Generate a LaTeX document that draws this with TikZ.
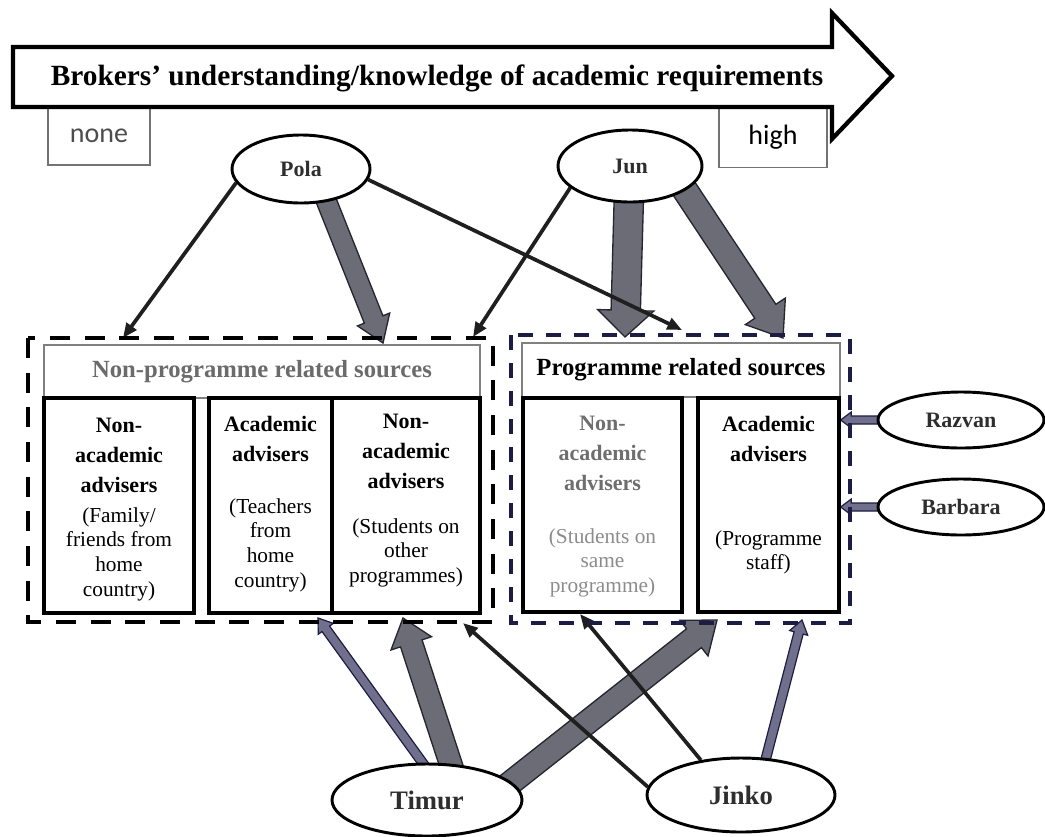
\documentclass[tikz,border=0pt]{standalone}
\usepackage{fontspec}
\setmainfont{Liberation Serif}
\newfontfamily\calibfont{Carlito}
\usetikzlibrary{shapes.geometric,arrows.meta,calc}
\pgfdeclarelayer{bg}
\pgfsetlayers{bg,main}

\definecolor{fatfill}{HTML}{6C6C76}
\definecolor{fatline}{HTML}{262630}
\definecolor{slimfill}{HTML}{70708C}
\definecolor{navy}{HTML}{1C1C44}
\definecolor{greyone}{HTML}{6B6B6B}
\definecolor{greytwo}{HTML}{6E6E6E}
\definecolor{greythree}{HTML}{8C8C8C}
\definecolor{namegrey}{HTML}{2E2E2E}

\tikzset{
  bigarrow/.style={draw, line width=3.2pt, fill=white, line join=miter},
  scalebox/.style={draw=black!55, line width=1.1pt, font=\calibfont\fontsize{21}{24}\selectfont},
  person/.style={ellipse, draw, line width=2.2pt, fill=white, inner sep=0pt, text=namegrey,
    font=\bfseries\fontsize{16.5}{19}\selectfont},
  bigname/.style={font=\bfseries\fontsize{20}{24}\selectfont},
  header/.style={draw=black!50, line width=1.2pt, fill=white, font=\bfseries\fontsize{18.5}{22}\selectfont},
  srcbox/.style={draw, line width=2.4pt},
  lbl/.style={anchor=north, align=center, inner sep=0pt, font=\bfseries\fontsize{16.5}{22.5}\selectfont},
  note/.style={anchor=north, align=center, inner sep=0pt, font=\fontsize{16}{18.5}\selectfont},
  grpbox/.style={line width=3.2pt, dash pattern=on 15pt off 11pt},
  link/.style={line width=2.8pt, draw=black!88, -{Triangle[length=11pt,width=9pt]}},
  fat/.style={draw=fatline, fill=fatfill, line width=1pt, line join=miter},
  slim/.style={draw=navy, fill=slimfill, line width=0.9pt, line join=miter}
}

% block arrow: [style]{from}{to}{half shaft}{half head}{head length}
\newcommand{\blockarrow}[6][fat]{%
  \coordinate (ba-s) at ($(#2)!-6pt!(#3)$);
  \coordinate (ba-h) at ($(#3)!#6!(#2)$);
  \draw[#1] ($(ba-s)!#4!90:(#3)$) -- ($(ba-h)!#4!90:(#3)$)
    -- ($(ba-h)!#5!90:(#3)$) -- (#3) -- ($(ba-h)!#5!-90:(#3)$)
    -- ($(ba-h)!#4!-90:(#3)$) -- ($(ba-s)!#4!-90:(#3)$) -- cycle;}

\begin{document}
\begin{tikzpicture}[x=0.75pt, y=-0.75pt]
\useasboundingbox (0,0) rectangle (1045,836);

% scale at the top
\node[scalebox, minimum width=76.5pt, minimum height=43.5pt, text=black!70] (none) at (99,136) {none};
\node[scalebox, minimum width=81pt, minimum height=45.75pt] (high) at (773,137) {high};
\draw[bigarrow] (13,47) -- (832,47) -- (832,13) -- (892,76) -- (832,139) -- (832,107) -- (13,107) -- cycle;
\node[font=\bfseries\fontsize{22}{26}\selectfont, anchor=base] (scale) at (437,85)
  {Brokers’ understanding/knowledge of academic requirements};

% the two groups of sources
\draw[grpbox] (28,338) rectangle (493,622);
\draw[grpbox, navy, line width=2.4pt, dash pattern=on 11pt off 10pt] (511,335) rectangle (850,623);

\node[header, minimum width=327pt, minimum height=39.75pt, text=greyone] (nonprog) at (262,371.5) {Non-programme related sources};
\node[header, minimum width=238.5pt, minimum height=40.5pt] (prog) at (681,370) {Programme related sources};

\node[srcbox, minimum width=112.5pt, minimum height=161.25pt] (box1) at (119,505.5) {};
\node[srcbox, minimum width=92.25pt, minimum height=161.25pt] (box2) at (270.5,505.5) {};
\node[srcbox, minimum width=111pt, minimum height=161.25pt] (box3) at (406,505.5) {};
\node[srcbox, minimum width=119.25pt, minimum height=160.5pt] (box4) at (602.5,505) {};
\node[srcbox, minimum width=105.75pt, minimum height=160.5pt] (box5) at (768.5,505) {};

\node[lbl] (t1) at (119,417.5) {Non-\\academic\\advisers};
\node[note] (n1) at (119,507) {(Family/\\friends from\\home\\country)};
\node[lbl] (t2) at (270.5,415.5) {Academic\\advisers};
\node[note] (n2) at (270.5,498) {(Teachers\\from\\home\\country)};
\node[lbl] (t3) at (406,413.5) {Non-\\academic\\advisers};
\node[note] (n3) at (406,518) {(Students on\\other\\programmes)};
\node[lbl, text=greytwo] (t4) at (602.5,415.5) {Non-\\academic\\advisers};
\node[note, text=greythree] (n4) at (602.5,528) {(Students on\\same\\programme)};
\node[lbl] (t5) at (768.5,415.5) {Academic\\advisers};
\node[note] (n5) at (768.5,530) {(Programme\\staff)};

% brokers
\node[person, minimum width=103.5pt, minimum height=51pt] (pola) at (301,169) {Pola};
\node[person, minimum width=108pt, minimum height=54pt] (jun) at (630,166) {Jun};
\node[person, minimum width=124.5pt, minimum height=42pt] (razvan) at (961,420) {Razvan};
\node[person, minimum width=124.5pt, minimum height=42pt] (barbara) at (961,507) {Barbara};
\node[person, bigname, minimum width=142.5pt, minimum height=54pt] (timur) at (427,800) {Timur};
\node[person, bigname, minimum width=141pt, minimum height=55.5pt] (jinko) at (741,795) {Jinko};

% arrow ends on the group borders
\coordinate (pl) at (123,338);
\coordinate (pfat) at (383,343);
\coordinate (pr) at (682,330);
\coordinate (jl) at (473,337);
\coordinate (jdown) at (625,337);
\coordinate (jright) at (783,338);
\coordinate (t23) at (318,618);
\coordinate (tup) at (403,618);
\coordinate (tright) at (717,620);
\coordinate (j3) at (463,623);
\coordinate (j4) at (580,614);
\coordinate (j5) at (802,620);
\coordinate (r5) at (box5.east |- razvan.west);
\coordinate (b5) at (box5.east |- barbara.west);

\begin{pgfonlayer}{bg}
  \blockarrow{pola.-52}{pfat}{7.5pt}{13pt}{19pt}
  \blockarrow{jun.-92}{jdown}{11pt}{21pt}{20pt}
  \blockarrow{jun.-24}{jright}{9.5pt}{18pt}{24pt}
  \blockarrow{timur.57}{tup}{8.5pt}{16pt}{20pt}
  \blockarrow{timur.12}{tright}{9pt}{17pt}{22pt}
  \blockarrow[slim]{timur.97}{t23}{3.5pt}{7pt}{10pt}
  \blockarrow[slim]{jinko.56}{j5}{3.5pt}{7pt}{10pt}
  \blockarrow[slim]{razvan.west}{r5}{3pt}{6pt}{8pt}
  \blockarrow[slim]{barbara.west}{b5}{3pt}{6pt}{8pt}

  \draw[link] (pola.-168) -- (pl);
  \draw[link] (pola.-9) -- (pr);
  \draw[link] (jun.-160) -- (jl);
  \draw[link] (jinko.175) -- (j3);
  \draw[link] (jinko.139) -- (j4);
\end{pgfonlayer}
\end{tikzpicture}
\end{document}
